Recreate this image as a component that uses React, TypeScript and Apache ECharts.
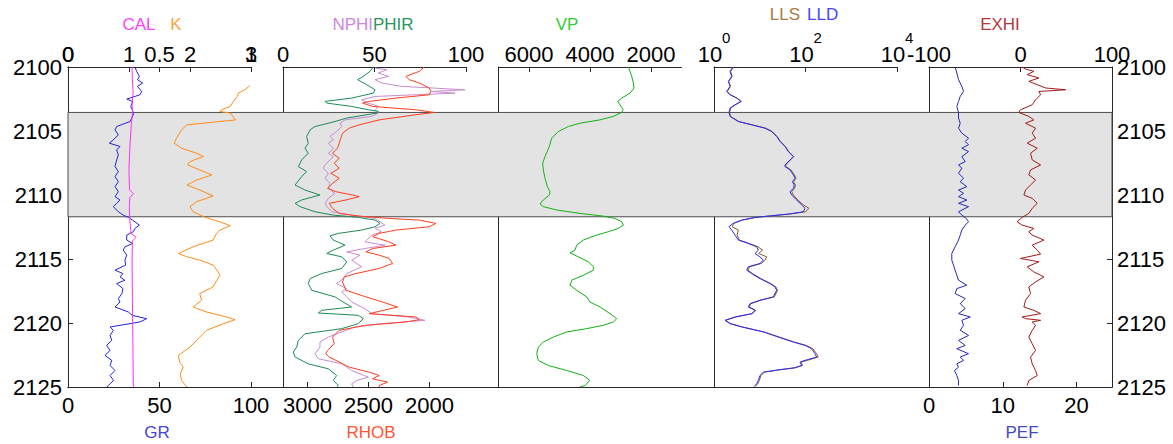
import React, { useEffect, useRef } from "react";
import * as echarts from "echarts";

// ---------------- data ----------------
const depthMin = 2100;
const depthMax = 2125;
const depthInterval = 5;
const bandDepths = [2103.55, 2111.7];

const calRange = [0, 1];
const kRange = [0, 3];
const grRange = [0, 100];
const porRange = [0, 100];
const rhobRange = [1700, 3200];
const vpRange = [1000, 7000];
const resRange = [1, 10000];
const exhiRange = [-100, 100];
const pefRange = [0, 24.8];

const calTicks = [0, 0.5, 1];
const kTicks = [0, 1, 2, 3];
const grTicks = [0, 50, 100];
const porTicks = [0, 50, 100];
const rhobTicks = [2000, 2500, 3000];
const vpTicks = [2000, 4000, 6000];
const resTicks = [1, 100, 10000];
const exhiTicks = [-100, 0, 100];
const pefTicks = [0, 10, 20];

// curves: [depth, value]
const GR: number[][] = [[2100.00,36.6],[2100.34,37.5],[2100.73,39.0],[2100.99,38.0],[2101.25,40.8],[2101.51,37.9],[2101.91,40.3],[2102.17,39.3],[2102.51,32.1],[2102.69,35.3],[2103.08,34.3],[2103.47,35.5],[2103.73,35.7],[2103.99,34.8],[2104.26,33.9],[2104.65,26.6],[2104.91,25.7],[2105.30,27.5],[2105.69,24.8],[2105.95,22.6],[2106.21,28.4],[2106.48,26.6],[2106.87,27.5],[2107.26,26.6],[2107.78,25.7],[2108.17,27.5],[2108.56,25.7],[2108.96,27.5],[2109.35,25.7],[2109.74,27.5],[2110.13,25.7],[2110.39,28.4],[2110.65,26.6],[2110.91,24.8],[2111.31,27.5],[2111.57,30.2],[2111.75,33.0],[2111.96,35.3],[2112.35,39.0],[2112.61,36.6],[2112.87,35.7],[2113.13,32.1],[2113.52,32.1],[2113.79,35.3],[2114.05,31.1],[2114.31,30.2],[2114.70,32.1],[2115.09,31.1],[2115.48,31.5],[2115.87,25.7],[2116.14,30.0],[2116.40,28.4],[2116.66,31.1],[2116.92,26.6],[2117.31,30.0],[2117.70,29.5],[2118.09,27.5],[2118.36,28.4],[2118.75,25.7],[2119.14,33.0],[2119.40,35.0],[2119.66,43.0],[2119.92,39.3],[2120.31,23.0],[2120.57,24.8],[2120.97,23.0],[2121.36,23.9],[2121.75,21.1],[2122.14,23.0],[2122.53,20.2],[2122.92,23.9],[2123.32,23.0],[2123.71,25.7],[2124.10,23.0],[2124.49,24.8],[2124.88,22.1],[2125.00,21.5]];

const CAL: number[][] = [[2100,0.350],[2101,0.352],[2102,0.356],[2103,0.350],[2103.5,0.353],[2104.5,0.346],[2106,0.339],[2108,0.333],[2109.6,0.336],[2109.9,0.357],[2110.2,0.338],[2111,0.335],[2112,0.338],[2113,0.345],[2113.3,0.372],[2113.6,0.352],[2115,0.350],[2118,0.352],[2122,0.355],[2125,0.357]];

const K: number[][] = [[2101.46,2.98],[2101.78,2.90],[2102.04,2.79],[2102.30,2.78],[2102.69,2.71],[2103.08,2.66],[2103.34,2.52],[2103.47,2.49],[2103.60,2.66],[2104.13,2.75],[2104.52,1.95],[2104.91,1.86],[2105.56,1.78],[2105.95,1.74],[2106.34,1.86],[2106.74,2.11],[2107.00,2.22],[2107.39,2.00],[2107.65,1.96],[2108.04,2.16],[2108.43,2.36],[2108.83,2.11],[2109.22,1.95],[2109.61,2.16],[2110.08,2.38],[2110.52,2.11],[2110.91,2.00],[2111.31,2.05],[2111.75,2.25],[2112.09,2.49],[2112.40,2.66],[2112.74,2.49],[2113.05,2.43],[2113.52,2.38],[2114.05,2.05],[2114.57,1.81],[2114.83,1.95],[2115.09,2.16],[2115.48,2.38],[2115.87,2.44],[2116.27,2.49],[2116.66,2.44],[2117.18,2.38],[2117.70,2.16],[2118.22,2.19],[2118.75,2.05],[2119.14,2.27],[2119.53,2.60],[2119.74,2.74],[2120.05,2.55],[2120.57,2.27],[2121.10,2.16],[2121.88,2.00],[2122.53,1.81],[2123.05,1.83],[2123.45,1.89],[2123.97,1.84],[2124.49,1.86],[2125.00,1.95]];

const PHIR: number[][] = [[2100,49.4],[2100.34,47.5],[2100.73,43.9],[2100.99,40.8],[2101.38,45.7],[2101.78,50.3],[2102.04,49.4],[2102.43,37.5],[2102.69,23.0],[2102.82,23.9],[2103.08,37.5],[2103.34,46.6],[2103.47,52.1],[2103.60,51.2],[2103.99,34.8],[2104.26,28.4],[2104.65,17.5],[2104.91,14.8],[2105.43,12.9],[2105.95,13.8],[2106.34,12.0],[2106.74,13.8],[2107.26,10.2],[2107.78,8.4],[2108.17,12.9],[2108.56,10.2],[2109.22,6.6],[2109.61,12.0],[2110.00,20.2],[2110.39,10.2],[2110.65,6.6],[2110.91,9.3],[2111.31,17.5],[2111.57,27.5],[2111.75,41.2],[2111.96,50.3],[2112.22,53.0],[2112.48,50.3],[2112.74,43.0],[2113.00,30.2],[2113.19,25.7],[2113.52,27.5],[2113.92,33.9],[2114.31,27.5],[2114.57,23.9],[2114.83,32.1],[2115.22,34.8],[2115.74,32.1],[2116.14,21.1],[2116.53,14.8],[2116.92,13.8],[2117.44,15.7],[2117.96,28.4],[2118.22,31.2],[2118.75,37.5],[2119.01,21.1],[2119.22,19.3],[2119.40,41.2],[2119.66,43.9],[2120.05,41.2],[2120.44,32.1],[2120.84,12.0],[2121.36,8.4],[2121.88,7.5],[2122.27,5.6],[2122.66,6.6],[2123.19,13.8],[2123.58,24.8],[2124.10,29.3],[2124.49,27.5],[2124.88,30.2],[2125,29.3]];

const NPHI: number[][] = [[2100.08,50.3],[2100.21,56.7],[2100.47,52.1],[2100.73,57.6],[2100.99,50.3],[2101.25,53.9],[2101.51,64.8],[2101.78,99.5],[2101.91,81.2],[2102.04,94.0],[2102.30,50.3],[2102.56,43.0],[2102.82,46.6],[2103.08,52.1],[2103.34,50.3],[2103.60,52.1],[2103.86,48.5],[2104.13,33.9],[2104.39,31.2],[2104.65,32.1],[2105.04,29.3],[2105.43,25.7],[2105.69,27.5],[2105.95,24.8],[2106.34,27.5],[2106.74,24.8],[2107.00,27.5],[2107.26,25.7],[2107.65,23.0],[2107.91,22.0],[2108.30,24.8],[2108.69,23.0],[2109.09,25.7],[2109.48,24.8],[2109.87,28.4],[2110.26,24.8],[2110.65,23.0],[2110.91,24.0],[2111.31,26.6],[2111.57,37.5],[2111.83,50.3],[2112.09,53.0],[2112.35,55.7],[2112.61,50.3],[2112.87,53.9],[2113.13,48.5],[2113.66,44.8],[2113.92,55.7],[2114.18,44.8],[2114.44,34.8],[2114.70,42.1],[2115.09,37.5],[2115.61,43.0],[2116.14,34.8],[2116.53,33.0],[2116.92,29.3],[2117.31,34.8],[2117.57,32.1],[2117.96,34.8],[2118.36,37.5],[2118.88,44.8],[2119.27,48.5],[2119.53,68.5],[2119.79,77.6],[2120.05,53.9],[2120.31,39.3],[2120.70,32.1],[2121.10,24.8],[2121.49,20.2],[2121.88,20.2],[2122.40,17.5],[2122.79,19.3],[2123.19,32.1],[2123.71,37.5],[2124.23,46.6],[2124.49,40.3],[2124.75,37.5],[2125.00,38.4]];

const RHOB: number[][] = [[2100,2042],[2100.34,2083],[2100.73,2193],[2100.99,2165],[2101.25,2083],[2101.64,2001],[2101.91,1988],[2102.17,2001],[2102.43,2275],[2102.69,2493],[2102.82,2548],[2103.08,2466],[2103.34,2111],[2103.55,1960],[2103.73,2111],[2104.13,2411],[2104.52,2575],[2104.78,2657],[2105.17,2712],[2105.56,2726],[2105.95,2739],[2106.34,2753],[2106.74,2794],[2107.13,2739],[2107.52,2780],[2107.91,2739],[2108.30,2808],[2108.69,2739],[2109.09,2794],[2109.48,2835],[2109.74,2767],[2110.00,2630],[2110.13,2575],[2110.39,2685],[2110.65,2821],[2111.04,2794],[2111.44,2739],[2111.65,2575],[2111.83,2329],[2111.96,2083],[2112.22,1947],[2112.48,2001],[2112.74,2275],[2113.00,2411],[2113.26,2466],[2113.66,2329],[2113.92,2275],[2114.18,2466],[2114.44,2521],[2114.70,2411],[2114.96,2329],[2115.35,2302],[2115.74,2411],[2116.14,2603],[2116.40,2698],[2116.79,2712],[2117.44,2685],[2117.96,2521],[2118.36,2384],[2118.75,2261],[2119.27,2493],[2119.53,2111],[2119.74,2083],[2119.92,2193],[2120.18,2521],[2120.57,2739],[2121.10,2794],[2121.62,2780],[2122.14,2835],[2122.40,2849],[2122.66,2821],[2123.05,2739],[2123.45,2657],[2123.84,2493],[2124.10,2411],[2124.36,2466],[2124.62,2343],[2124.88,2411],[2125.00,2411]];

const VP: number[][] = [[2100,2743],[2100.34,2688],[2100.73,2633],[2101.25,2578],[2101.64,2557],[2102.04,2688],[2102.43,2961],[2102.69,3092],[2102.95,3016],[2103.34,2908],[2103.55,2961],[2103.86,3236],[2104.13,3672],[2104.39,4328],[2104.65,4711],[2105.04,5039],[2105.56,5256],[2106.21,5334],[2107.00,5475],[2107.52,5551],[2108.04,5530],[2108.69,5475],[2109.35,5399],[2109.74,5311],[2110.00,5334],[2110.39,5530],[2110.70,5639],[2110.91,5530],[2111.17,5092],[2111.44,4328],[2111.65,3563],[2111.83,3180],[2112.09,2961],[2112.35,2908],[2112.61,3072],[2112.87,3400],[2113.13,3780],[2113.52,4219],[2113.92,4436],[2114.31,4492],[2114.52,4656],[2114.83,4383],[2115.22,4055],[2115.61,3890],[2115.87,3890],[2116.27,4219],[2116.66,4600],[2117.05,4656],[2117.44,4436],[2117.96,4110],[2118.36,4000],[2118.75,3672],[2119.27,3344],[2119.66,3124],[2119.92,3236],[2120.18,3563],[2120.44,4110],[2120.70,4764],[2121.10,5203],[2121.49,5530],[2121.88,5695],[2122.40,5748],[2122.92,5695],[2123.32,5367],[2123.71,4764],[2124.10,4219],[2124.49,4000],[2124.88,4164],[2125.00,4328]];

const LLD: number[][] = [[2100,2.6],[2100.34,2.24],[2100.73,2.44],[2101.12,2.06],[2101.51,2.24],[2101.91,1.89],[2102.17,2.24],[2102.43,3.13],[2102.69,3.89],[2102.95,2.88],[2103.21,2.24],[2103.55,2.13],[2103.86,2.24],[2104.26,3.4],[2104.52,6.65],[2104.78,13.0],[2105.04,18.2],[2105.43,23.4],[2105.82,27.7],[2106.21,35.6],[2106.61,42.2],[2107.00,54.2],[2107.26,45.8],[2107.65,35.6],[2107.78,35.6],[2108.04,45.8],[2108.43,54.2],[2108.69,58.9],[2108.96,51.5],[2109.22,57.0],[2109.48,54.2],[2109.74,45.8],[2110.00,49.8],[2110.39,64.1],[2110.78,82.4],[2111.04,97.5],[2111.31,89.7],[2111.49,42.2],[2111.62,18.2],[2111.75,7.87],[2111.96,4.03],[2112.22,2.6],[2112.48,2.13],[2112.74,2.44],[2113.13,2.88],[2113.52,3.4],[2113.79,5.63],[2114.05,8.55],[2114.31,9.31],[2114.57,7.87],[2114.83,10.1],[2115.09,12.0],[2115.35,10.1],[2115.61,5.63],[2115.87,5.18],[2116.14,6.65],[2116.53,10.1],[2116.92,16.7],[2117.18,21.5],[2117.44,23.4],[2117.96,19.8],[2118.22,10.1],[2118.49,6.12],[2118.75,5.63],[2119.01,7.87],[2119.27,6.65],[2119.53,2.88],[2119.79,1.74],[2120.05,2.24],[2120.31,4.03],[2120.70,12.0],[2121.10,25.5],[2121.49,54.2],[2121.75,97.5],[2122.01,136],[2122.40,161],[2122.66,175],[2122.92,97.5],[2123.05,75.9],[2123.32,82.4],[2123.50,57.0],[2123.66,25.5],[2123.84,12.0],[2124.10,10.1],[2124.49,9.31],[2124.75,8.55],[2124.96,7.62]];

const LLS: number[][] = [[2100,2.7],[2100.34,2.3],[2100.73,2.5],[2101.12,2.1],[2101.51,2.3],[2101.91,1.95],[2102.17,2.3],[2102.43,3.2],[2102.69,3.95],[2102.95,2.95],[2103.21,2.3],[2103.55,2.2],[2103.86,2.3],[2104.26,3.5],[2104.52,6.9],[2104.78,13.5],[2105.04,18.8],[2105.43,24.0],[2105.82,28.5],[2106.21,36.5],[2106.61,43.0],[2107.00,55.5],[2107.26,47.0],[2107.65,37.0],[2107.78,37.5],[2108.04,48.0],[2108.43,57.0],[2108.69,62.0],[2108.96,55.0],[2109.22,60.0],[2109.48,58.0],[2109.74,50.0],[2110.00,54.0],[2110.39,68.0],[2110.78,90.0],[2111.04,119],[2111.31,100],[2111.49,45.0],[2111.62,19.0],[2111.75,8.2],[2111.96,4.2],[2112.22,2.7],[2112.48,2.5],[2112.74,3.4],[2113.13,3.2],[2113.52,3.6],[2113.79,6.0],[2114.05,9.2],[2114.31,11.5],[2114.57,9.5],[2114.83,14.2],[2115.09,13.0],[2115.35,10.8],[2115.61,6.0],[2115.87,5.5],[2116.14,7.0],[2116.53,10.6],[2116.92,17.5],[2117.18,22.5],[2117.44,24.5],[2117.96,20.8],[2118.22,10.6],[2118.49,6.4],[2118.75,5.9],[2119.01,8.2],[2119.27,7.0],[2119.53,3.0],[2119.79,1.8],[2120.05,2.3],[2120.31,4.2],[2120.70,12.6],[2121.10,27.0],[2121.49,57.0],[2121.75,103],[2122.01,145],[2122.40,175],[2122.66,190],[2122.92,110],[2123.05,80.0],[2123.32,86.0],[2123.50,60.0],[2123.66,27.0],[2123.84,12.6],[2124.10,10.6],[2124.49,9.8],[2124.75,9.0],[2124.96,7.9]];

const EXHI: number[][] = [[2100,1.8],[2100.16,5.5],[2100.34,14.6],[2100.60,7.3],[2100.86,20.1],[2101.12,9.1],[2101.38,18.3],[2101.64,27.5],[2101.78,49.5],[2101.91,20.1],[2102.17,22.0],[2102.56,16.5],[2102.95,12.8],[2103.34,0.0],[2103.55,-1.8],[2103.86,9.1],[2104.13,14.6],[2104.39,5.5],[2104.78,16.5],[2105.17,12.8],[2105.56,16.5],[2105.95,7.3],[2106.34,18.3],[2106.74,11.0],[2107.26,12.8],[2107.65,22.0],[2108.04,11.0],[2108.43,9.1],[2108.83,16.5],[2109.22,11.0],[2109.61,5.5],[2110.00,3.7],[2110.26,12.8],[2110.65,18.3],[2111.04,12.8],[2111.44,9.1],[2111.75,1.8],[2112.09,-3.7],[2112.35,1.8],[2112.61,14.6],[2112.87,9.1],[2113.13,12.8],[2113.52,25.6],[2113.92,12.8],[2114.31,18.3],[2114.62,22.0],[2114.96,0.0],[2115.22,20.1],[2115.61,7.3],[2116.01,14.6],[2116.40,25.6],[2116.79,16.5],[2117.18,9.1],[2117.70,11.0],[2118.22,5.5],[2118.75,3.7],[2119.01,14.6],[2119.27,22.0],[2119.53,1.8],[2119.66,5.5],[2119.79,22.0],[2119.92,12.8],[2120.18,16.5],[2120.57,12.8],[2121.10,9.1],[2121.62,12.8],[2122.14,16.5],[2122.66,11.0],[2123.19,12.8],[2123.71,16.5],[2124.10,18.3],[2124.49,9.1],[2124.88,7.3]];

const PEF: number[][] = [[2100,3.54],[2100.47,3.77],[2100.99,4.0],[2101.51,4.45],[2101.91,4.68],[2102.30,4.23],[2102.69,4.0],[2103.08,3.77],[2103.55,4.0],[2103.99,4.0],[2104.39,4.23],[2104.78,4.0],[2105.17,4.45],[2105.56,5.36],[2105.82,4.91],[2106.08,5.36],[2106.34,4.45],[2106.61,5.36],[2107.00,4.45],[2107.39,4.91],[2107.65,4.0],[2107.91,4.45],[2108.30,4.0],[2108.69,4.68],[2108.96,4.23],[2109.35,5.13],[2109.61,4.0],[2109.87,4.68],[2110.13,4.0],[2110.39,5.13],[2110.65,4.0],[2110.91,5.36],[2111.31,4.0],[2111.57,4.45],[2111.75,4.91],[2112.09,5.36],[2112.35,4.91],[2112.74,4.45],[2113.13,4.23],[2113.52,4.0],[2114.05,3.54],[2114.57,3.09],[2115.09,3.09],[2115.48,3.32],[2115.87,3.54],[2116.27,3.77],[2116.66,4.0],[2117.05,5.13],[2117.31,3.77],[2117.70,3.54],[2118.09,4.91],[2118.49,4.23],[2118.88,4.91],[2119.27,4.0],[2119.53,5.59],[2119.79,4.45],[2120.18,4.68],[2120.57,4.23],[2120.97,5.36],[2121.36,4.0],[2121.75,4.91],[2122.01,3.77],[2122.40,5.36],[2122.66,4.23],[2122.92,4.68],[2123.19,3.77],[2123.45,4.0],[2123.71,3.45],[2124.10,3.77],[2124.49,4.0],[2124.88,4.0]];

// ---------------- styling / layout ----------------
const FONT = "'Liberation Sans', Arial, Helvetica, sans-serif";
const AXIS = "#262626";
const PLOT_TOP = 67;
const PLOT_H = 320;
const PLOT_LEFT = 68;
const PLOT_W = 1044;
const TRACK_LEFTS = [68, 283, 498.5, 714, 929];
const TRACK_W = 183;

const plain = (v: number) => String(v);

function xAxisDef(gridIndex: number, position: "top" | "bottom", range: number[], ticks: number[], extra: any = {}) {
  return {
    type: "value",
    gridIndex,
    position,
    min: range[0],
    max: range[1],
    axisLine: { show: true, onZero: false, lineStyle: { color: AXIS, width: 1 } },
    axisTick: { show: true, inside: true, length: 5, customValues: ticks, lineStyle: { color: AXIS, width: 1 } },
    axisLabel: {
      show: true,
      customValues: ticks,
      formatter: plain,
      color: "#000",
      fontSize: 22,
      fontFamily: FONT,
      margin: position === "top" ? 2 : 7,
      hideOverlap: false,
    },
    splitLine: { show: false },
    ...extra,
  };
}

function curve(data: number[][], xAxisIndex: number, yAxisIndex: number, color: string) {
  return {
    type: "line",
    xAxisIndex,
    yAxisIndex,
    data: data.map(([d, v]) => [v, d]),
    showSymbol: false,
    symbol: "none",
    silent: true,
    z: 3,
    lineStyle: { color, width: 1 },
  };
}

const titles = [
  { text: "CAL", x: 139, y: 24, color: "#ff40ff", align: "center" },
  { text: "K", x: 176, y: 24, color: "#ffa040", align: "center" },
  { text: "NPHI", x: 373, y: 24, color: "#cc88dd", align: "right" },
  { text: "PHIR", x: 373, y: 24, color: "#2e9460", align: "left" },
  { text: "VP", x: 567, y: 24, color: "#33cc33", align: "center" },
  { text: "LLS", x: 800, y: 14, color: "#a87a44", align: "right" },
  { text: "LLD", x: 807, y: 14, color: "#4444ff", align: "left" },
  { text: "EXHI", x: 1000, y: 24, color: "#b03a3a", align: "center" },
  { text: "GR", x: 157, y: 432, color: "#4444dd", align: "center" },
  { text: "RHOB", x: 371, y: 432, color: "#ff5533", align: "center" },
  { text: "PEF", x: 1022, y: 432, color: "#4848bb", align: "center" },
];

function buildOption() {
  const grids = [
    { left: PLOT_LEFT, top: PLOT_TOP, width: PLOT_W, height: PLOT_H, containLabel: false, outerBoundsMode: "none" },
    ...TRACK_LEFTS.map((l) => ({ left: l, top: PLOT_TOP, width: TRACK_W, height: PLOT_H, containLabel: false, outerBoundsMode: "none" })),
  ];

  const depthAxisBase = {
    type: "value",
    min: depthMin,
    max: depthMax,
    inverse: true,
    splitLine: { show: false },
  };

  const yAxes = [
    {
      ...depthAxisBase,
      gridIndex: 0,
      position: "left",
      interval: depthInterval,
      axisLine: { show: true, onZero: false, lineStyle: { color: AXIS, width: 1 } },
      axisTick: { show: true, inside: true, length: 5, lineStyle: { color: AXIS } },
      axisLabel: { show: true, formatter: plain, color: "#000", fontSize: 22, fontFamily: FONT, margin: 6 },
    },
    {
      ...depthAxisBase,
      gridIndex: 0,
      position: "right",
      interval: depthInterval,
      axisLine: { show: true, onZero: false, lineStyle: { color: AXIS, width: 1 } },
      axisTick: { show: true, inside: true, length: 5, lineStyle: { color: AXIS } },
      axisLabel: { show: true, formatter: plain, color: "#000", fontSize: 22, fontFamily: FONT, margin: 5 },
    },
    ...TRACK_LEFTS.map((_, i) => ({
      ...depthAxisBase,
      gridIndex: i + 1,
      position: "left",
      axisLine: { show: true, onZero: false, lineStyle: { color: AXIS, width: 1 } },
      axisTick: { show: false },
      axisLabel: { show: false },
    })),
  ];

  const xAxes = [
    // 0: background bottom line
    {
      type: "value",
      gridIndex: 0,
      position: "bottom",
      min: 0,
      max: 1,
      axisLine: { show: true, onZero: false, lineStyle: { color: AXIS, width: 1 } },
      axisTick: { show: false },
      axisLabel: { show: false },
      splitLine: { show: false },
    },
    xAxisDef(1, "top", calRange, calTicks), // 1 CAL
    xAxisDef(1, "top", kRange, kTicks), // 2 K
    xAxisDef(1, "bottom", grRange, grTicks), // 3 GR
    xAxisDef(2, "top", porRange, porTicks), // 4 NPHI/PHIR
    xAxisDef(2, "bottom", rhobRange, rhobTicks, { inverse: true }), // 5 RHOB
    xAxisDef(3, "top", vpRange, vpTicks, { inverse: true }), // 6 VP
    {
      ...xAxisDef(4, "top", resRange, resTicks),
      type: "log",
      logBase: 10,
      axisLabel: {
        show: true,
        customValues: resTicks,
        formatter: () => "10",
        color: "#000",
        fontSize: 22,
        fontFamily: FONT,
        margin: 2,
        padding: [0, 8, 0, 0],
      },
    }, // 7 LLS/LLD
    {
      type: "log",
      logBase: 10,
      gridIndex: 4,
      position: "top",
      min: resRange[0],
      max: resRange[1],
      axisLine: { show: false },
      axisTick: { show: false },
      splitLine: { show: false },
      axisLabel: {
        show: true,
        customValues: resTicks,
        formatter: (v: number) => String(Math.round(Math.log10(v))),
        color: "#000",
        fontSize: 15,
        fontFamily: FONT,
        align: "left",
        padding: [0, 0, 0, 8],
        margin: 22,
      },
    }, // 8 exponents
    xAxisDef(5, "top", exhiRange, exhiTicks), // 9 EXHI
    xAxisDef(5, "bottom", pefRange, pefTicks), // 10 PEF
  ];

  const series: any[] = [
    {
      type: "line",
      xAxisIndex: 0,
      yAxisIndex: 0,
      data: [[0.5, depthMin]],
      showSymbol: false,
      symbol: "none",
      silent: true,
      lineStyle: { opacity: 0 },
      z: 1,
      markArea: {
        silent: true,
        itemStyle: { color: "#e3e3e3", borderColor: "#4d4d4d", borderWidth: 1 },
        data: [[{ yAxis: bandDepths[0] }, { yAxis: bandDepths[1] }]],
      },
    },
    curve(GR, 3, 2, "#2323dc"),
    curve(CAL, 1, 2, "#ff30ff"),
    curve(K, 2, 2, "#ff8c1a"),
    curve(NPHI, 4, 3, "#c98bd0"),
    curve(PHIR, 4, 3, "#1f8a55"),
    curve(RHOB, 5, 3, "#ff3d1f"),
    curve(VP, 6, 4, "#14b014"),
    curve(LLS, 7, 5, "#8c5a1e"),
    curve(LLD, 7, 5, "#2b2bff"),
    curve(EXHI, 9, 6, "#a11a1a"),
    curve(PEF, 10, 6, "#2727b8"),
  ];

  const graphic = titles.map((t) => ({
    type: "text",
    x: t.x,
    y: t.y,
    silent: true,
    style: {
      text: t.text,
      fill: t.color,
      font: `17px ${FONT}`,
      fontSize: 17,
      fontFamily: FONT,
      align: t.align,
      verticalAlign: "middle",
      textAlign: t.align,
      textVerticalAlign: "middle",
    },
  }));

  return {
    animation: false,
    backgroundColor: "#ffffff",
    textStyle: { fontFamily: FONT },
    grid: grids,
    xAxis: xAxes,
    yAxis: yAxes,
    series,
    graphic,
  };
}

export default function App() {
  const ref = useRef<HTMLDivElement>(null);
  useEffect(() => {
    document.body.style.margin = "0";
    if (!ref.current) return;
    const chart = echarts.init(ref.current, null, { renderer: "svg" });
    chart.setOption(buildOption() as any);
    return () => chart.dispose();
  }, []);
  return <div ref={ref} style={{ width: 1173, height: 444 }} />;
}
